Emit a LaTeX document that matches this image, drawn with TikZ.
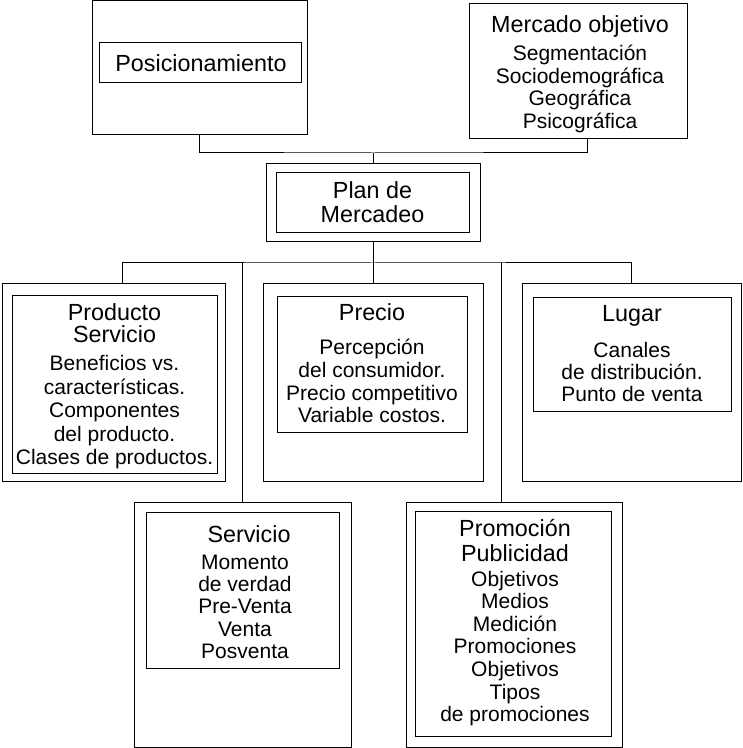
\documentclass[tikz,border=0pt]{standalone}
\usepackage{fontspec}
\setmainfont{Liberation Sans}
\usetikzlibrary{fit}
\newcommand\titlef{\fontsize{17.5}{20}\selectfont}
\newcommand\bodyf{\fontsize{15.75}{18}\selectfont}
\begin{document}
\begin{tikzpicture}[x=0.75pt,y=-0.75pt,
  box/.style={draw, line width=0.75pt, inner sep=0pt},
  ln/.style={line width=0.75pt},
  tt/.style={font=\titlef, inner sep=0pt, anchor=base},
  bd/.style={font=\bodyf, inner sep=0pt, anchor=base}]
\useasboundingbox (0,0) rectangle (742,748);
% boxes
\node[box, fit={(92,1) (307,135)}] (posO) {};
\node[box, fit={(99,43) (301,83)}] (posI) {};
\node[box, fit={(469,4) (687,139)}] (merO) {};
\node[box, fit={(266,164) (480,242)}] (planO) {};
\node[box, fit={(276,173) (469,233)}] (planI) {};
\node[box, fit={(2,283) (225,481)}] (prodO) {};
\node[box, fit={(12,295) (217,473)}] (prodI) {};
\node[box, fit={(263,283) (483,481)}] (precO) {};
\node[box, fit={(277,296) (467,432)}] (precI) {};
\node[box, fit={(522,283) (741,481)}] (lugO) {};
\node[box, fit={(533,297) (731,411)}] (lugI) {};
\node[box, fit={(134,502) (351,747)}] (servO) {};
\node[box, fit={(146,512) (339,668)}] (servI) {};
\node[box, fit={(406,502) (622,747)}] (promO) {};
\node[box, fit={(415,511) (611,736)}] (promI) {};
% texts
\node[tt] (posT) at (201,72) {Posicionamiento};
\node[tt] (merT) at (580,33) {Mercado objetivo};
\foreach \t [count=\i] in {Segmentación,Sociodemográfica,Geográfica,Psicográfica}
  \node[bd] (merB\i) at (580,{61+22.4*(\i-1)}) {\t};
\foreach \t [count=\i] in {Plan de,Mercadeo}
  \node[tt] (planT\i) at (372.5,{199+24*(\i-1)}) {\t};
\foreach \t [count=\i] in {Producto,Servicio}
  \node[tt] (prodT\i) at (114.5,{320+22.7*(\i-1)}) {\t};
\foreach \t [count=\i] in {Beneficios vs.,características.,Componentes,del producto.,Clases de productos.}
  \node[bd] (prodB\i) at (114.5,{370.7+23.5*(\i-1)}) {\t};
\node[tt] (precT) at (372,320.7) {Precio};
\foreach \t [count=\i] in {Percepción,del consumidor.,Precio competitivo,Variable costos.}
  \node[bd] (precB\i) at (372,{354.5+22.8*(\i-1)}) {\t};
\node[tt] (lugT) at (632,321) {Lugar};
\foreach \t [count=\i] in {Canales,de distribución.,Punto de venta}
  \node[bd] (lugB\i) at (632,{357.3+22.2*(\i-1)}) {\t};
\node[tt] (servT) at (249,542.3) {Servicio};
\foreach \t [count=\i] in {Momento,de verdad,Pre-Venta,Venta,Posventa}
  \node[bd] (servB\i) at (245,{569.3+22.25*(\i-1)}) {\t};
\foreach \t [count=\i] in {Promoción,Publicidad}
  \node[tt] (promT\i) at (515,{536.7+25*(\i-1)}) {\t};
\foreach \t [count=\i] in {Objetivos,Medios,Medición,Promociones,Objetivos,Tipos,de promociones}
  \node[bd] (promB\i) at (515,{586+22.6*(\i-1)}) {\t};
% connectors
\coordinate (jt) at (373,153);
\coordinate (jb) at (373,263);
\coordinate (jp) at (501,263);
\draw[ln] (posO.south) |- (jt) -| ([xshift=6.75pt]merO.south);
\draw[ln] (jt) -- (planO.north);
\draw[ln] (planO.south) -- (precO.north);
\draw[ln] ([xshift=7.1pt]prodO.north) |- (jb) -| (lugO.north);
\draw[ln] (servO.north) -- (servO.north |- jb);
\draw[ln] (jp) -- (jp |- promO.north);
\end{tikzpicture}
\end{document}
